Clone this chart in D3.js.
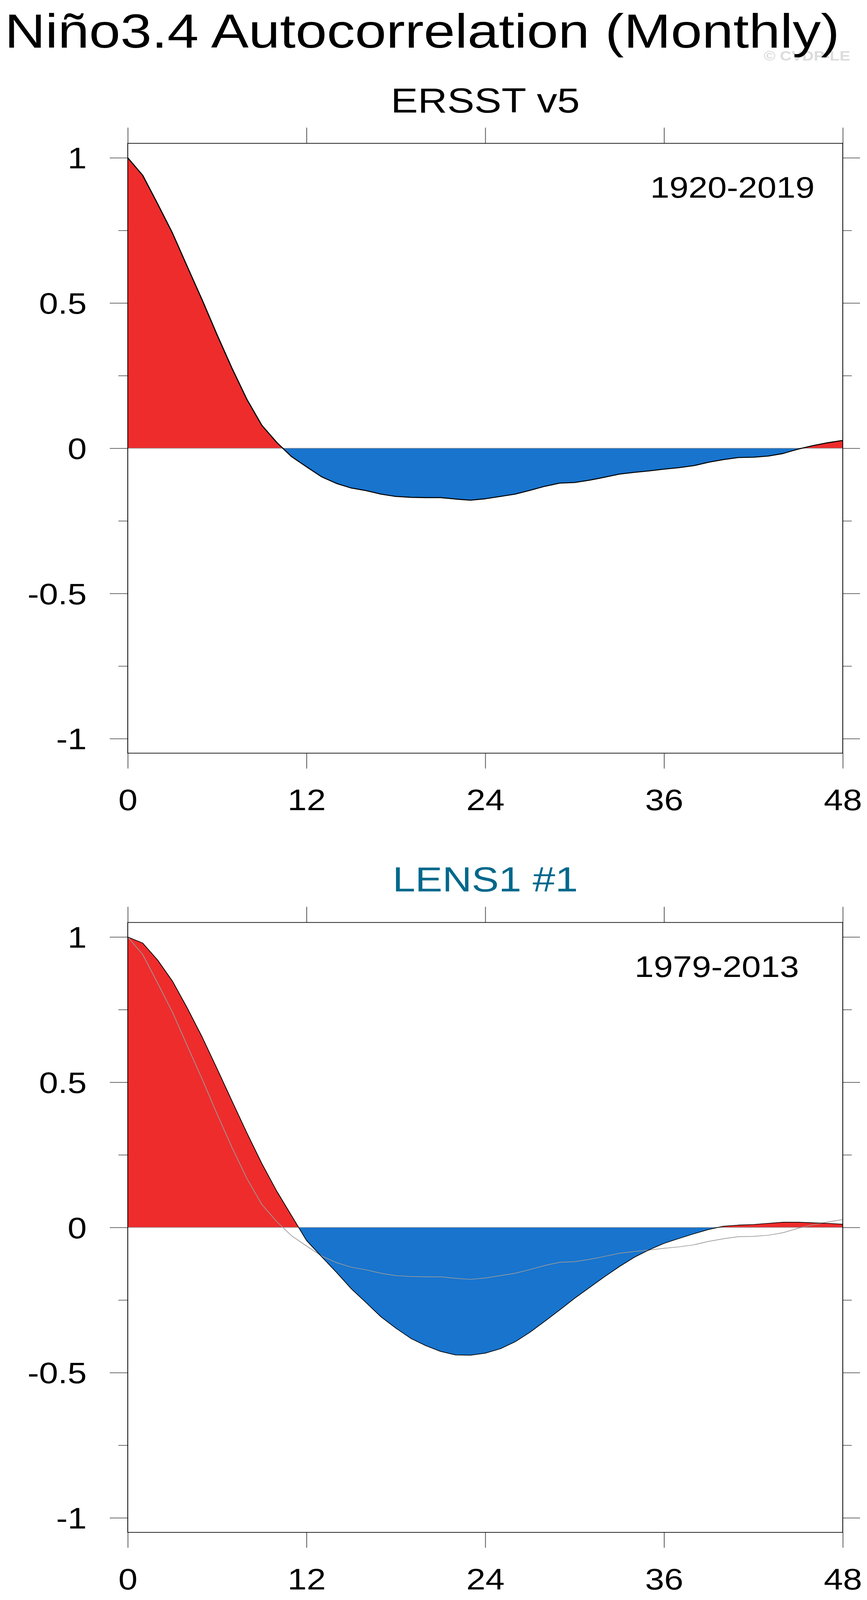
<!DOCTYPE html>
<html>
<head>
<meta charset="utf-8">
<script src="https://cdn.jsdelivr.net/npm/d3@7"></script>
<style>
  html, body { margin: 0; padding: 0; background: #fff; overflow: hidden; }
  svg { display: block; }
  text { font-family: "Liberation Sans", Arial, Helvetica, sans-serif; }
</style>
</head>
<body>
<div id="chart"></div>
<script>
// lag in months
const lags = d3.range(0, 49);

// ERSST v5, 1920-2019
const ersst = [
  1.0, 0.94, 0.842, 0.741, 0.625, 0.51, 0.39, 0.275, 0.168, 0.079,
  0.02, -0.029, -0.064, -0.098, -0.121, -0.137, -0.146, -0.158, -0.166, -0.169,
  -0.17, -0.17, -0.175, -0.179, -0.174, -0.166, -0.158, -0.145, -0.131, -0.12,
  -0.118, -0.11, -0.1, -0.089, -0.083, -0.078, -0.072, -0.067, -0.06, -0.048,
  -0.039, -0.032, -0.031, -0.027, -0.018, -0.003, 0.009, 0.019, 0.027
];

// LENS1 #1, 1979-2013
const lens1 = [
  1.0, 0.979, 0.921, 0.848, 0.755, 0.655, 0.546, 0.435, 0.325, 0.22,
  0.125, 0.04, -0.045, -0.1, -0.154, -0.211, -0.259, -0.308, -0.347, -0.382,
  -0.407, -0.427, -0.439, -0.44, -0.433, -0.418, -0.394, -0.361, -0.323, -0.284,
  -0.244, -0.207, -0.17, -0.135, -0.103, -0.077, -0.055, -0.038, -0.022, -0.007,
  0.004, 0.008, 0.01, 0.014, 0.018, 0.018, 0.016, 0.014, 0.011
];

const xTicks = [0, 12, 24, 36, 48];
const yTicks = [-1, -0.5, 0, 0.5, 1];
const yMinor = [-0.75, -0.25, 0.25, 0.75];

const panels = [
  { title: 'ERSST v5', titleColor: '#000', period: '1920-2019', values: ersst, obs: null, top: 430, periodX: 2085, lineW: 3 },
  { title: 'LENS1 #1', titleColor: '#00688b', period: '1979-2013', values: lens1, obs: ersst, top: 2768, periodX: 2045, lineW: 2 }
];

const W = 2219, H = 4801;
const left = 327, right = 2157, plotH = 1830;

// stretch the drawing over whatever the window really is
let vw = window.innerWidth || W, vh = window.innerHeight || H;

let svg = d3.select('#chart').append('svg')
  .attr('viewBox', `0 0 ${W} ${H}`)
  .attr('preserveAspectRatio', 'none')
  .attr('width', vw)
  .attr('height', vh)
  .style('background', '#fff');

// watermark sits behind the title
svg.append('text')
  .attr('x', 2176)
  .attr('y', 182)
  .attr('text-anchor', 'end')
  .style('font-size', '41px')
  .style('font-weight', 'bold')
  .style('fill', '#dcdcdc')
  .text('\u00a9 CVDP-LE');

svg.append('text')
  .attr('x', 12)
  .attr('y', 143)
  .style('font-size', '144px')
  .style('fill', '#000')
  .text('Niño3.4 Autocorrelation (Monthly)');

let x = d3.scaleLinear().domain([0, 48]).range([left, right]);

function drawPanel(p, i) {
  let top = p.top, bottom = top + plotH;
  let y = d3.scaleLinear().domain([-1.05, 1.05]).range([bottom, top]);
  let g = svg.append('g');

  g.append('text')
    .attr('x', (left + right) / 2)
    .attr('y', top - 93)
    .attr('text-anchor', 'middle')
    .style('font-size', '104px')
    .style('fill', p.titleColor)
    .text(p.title);

  let pts = lags.map((m, k) => ({ m, v: p.values[k] }));

  let area = d3.area()
    .x(d => x(d.m))
    .y0(y(0))
    .y1(d => y(d.v));

  let defs = g.append('defs');
  defs.append('clipPath').attr('id', 'pos' + i)
    .append('rect').attr('x', left).attr('y', top).attr('width', right - left).attr('height', y(0) - top);
  defs.append('clipPath').attr('id', 'neg' + i)
    .append('rect').attr('x', left).attr('y', y(0)).attr('width', right - left).attr('height', bottom - y(0));

  g.append('path')
    .datum(pts)
    .attr('d', area)
    .attr('clip-path', `url(#pos${i})`)
    .style('fill', '#ee2c2c');

  g.append('path')
    .datum(pts)
    .attr('d', area)
    .attr('clip-path', `url(#neg${i})`)
    .style('fill', '#1874cd');

  // zero reference line
  g.append('line')
    .attr('x1', left).attr('x2', right)
    .attr('y1', y(0)).attr('y2', y(0))
    .style('stroke', '#8a8a8a')
    .style('stroke-width', 1.5);

  let line = d3.line()
    .x(d => x(d.m))
    .y(d => y(d.v));

  if (p.obs) {
    g.append('path')
      .datum(lags.map((m, k) => ({ m, v: p.obs[k] })))
      .attr('d', line)
      .style('fill', 'none')
      .style('stroke', '#9a9a9a')
      .style('stroke-width', 2);
  }

  g.append('path')
    .datum(pts)
    .attr('d', line)
    .style('fill', 'none')
    .style('stroke', '#000')
    .style('stroke-width', p.lineW)
    .style('stroke-linejoin', 'round');

  g.append('text')
    .attr('x', p.periodX)
    .attr('y', top + 163)
    .attr('text-anchor', 'end')
    .style('font-size', '88px')
    .style('fill', '#000')
    .text(p.period);

  // axes
  let axB = g.append('g')
    .attr('transform', `translate(0,${bottom})`)
    .call(d3.axisBottom(x).tickValues(xTicks).tickSize(46).tickPadding(63).tickSizeOuter(0));
  axB.selectAll('text').style('font-size', '88px').attr('dy', '0.71em');

  g.append('g')
    .attr('transform', `translate(0,${top})`)
    .call(d3.axisTop(x).tickValues(xTicks).tickSize(47).tickFormat('').tickSizeOuter(0));

  let axL = g.append('g')
    .attr('transform', `translate(${left},0)`)
    .call(d3.axisLeft(y).tickValues(yTicks).tickSize(46).tickPadding(59).tickSizeOuter(0)
      .tickFormat(d => d3.format('')(d).replace('\u2212', '-')));
  axL.selectAll('text').style('font-size', '88px').attr('dy', '0.36em');

  g.append('g')
    .attr('transform', `translate(${left},0)`)
    .call(d3.axisLeft(y).tickValues(yMinor).tickSize(24).tickFormat('').tickSizeOuter(0));

  g.append('g')
    .attr('transform', `translate(${right},0)`)
    .call(d3.axisRight(y).tickValues(yTicks).tickSize(44).tickFormat('').tickSizeOuter(0));

  g.append('g')
    .attr('transform', `translate(${right},0)`)
    .call(d3.axisRight(y).tickValues(yMinor).tickSize(23).tickFormat('').tickSizeOuter(0));

  g.selectAll('.domain').remove();
  g.selectAll('.tick line').style('stroke', '#555').style('stroke-width', 2);
  g.selectAll('.tick text').style('fill', '#000').attr('font-family', null);

  // frame
  g.append('rect')
    .attr('x', left).attr('y', top)
    .attr('width', right - left).attr('height', plotH)
    .style('fill', 'none')
    .style('stroke', '#000')
    .style('stroke-width', 2);
}

panels.forEach(drawPanel);
</script>
</body>
</html>
